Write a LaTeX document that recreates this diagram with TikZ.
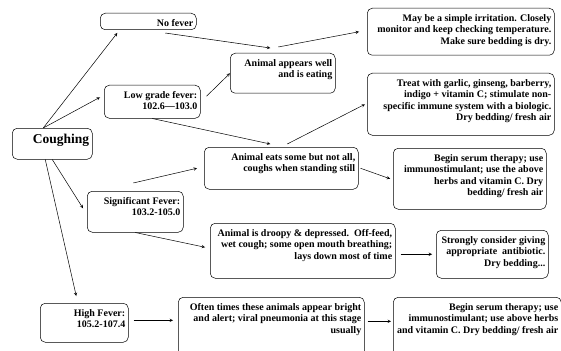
\documentclass[tikz,border=0pt]{standalone}
\usepackage{fontspec}
\setmainfont{Liberation Serif}
\usetikzlibrary{arrows}
\tikzstyle{arrow} = [->,>=stealth]
\newcommand{\bt}[3]{\parbox[c][\dimexpr#2pt-12pt\relax][t]{\dimexpr#1pt-6pt\relax}{\raggedleft #3}}

\begin{document}
\begin{tikzpicture}[x=1pt, y=-1pt, line width=0.5pt,
    box/.style={draw, rounded corners=5pt, anchor=north west, inner xsep=3pt, inner ysep=6pt, font=\bfseries\fontsize{10}{11.5}\selectfont}
  ]
    \useasboundingbox (0,0) rectangle (561,350);
    \clip (0,0) rectangle (561,350);

    % Symptom
    \node[box, font=\bfseries\fontsize{13.5}{16}\selectfont] (cough) at (12,128) {\bt{80}{31}{Coughing}};

    % Temperatures
    \node[box] (nofever) at (100,13) {\bt{96}{16}{No fever}};
    \node[box] (lowgrade) at (104,85) {\bt{96}{33}{Low grade fever:\\102.6---103.0}};
    \node[box] (signif) at (87,191) {\bt{96}{41}{Significant Fever:\\103.2-105.0}};
    \node[box] (high) at (40,303) {\bt{88}{39}{High Fever:\\105.2-107.4}};

    % Signs
    \node[box] (appears) at (230,53) {\bt{105}{40}{Animal appears well\\and is eating}};
    \node[box] (eats) at (204,147) {\bt{154}{42}{Animal eats some but not all,\\coughs when standing still}};
    \node[box] (droopy) at (210,223) {\bt{185}{55}{Animal is droopy \& depressed.\ \ Off-feed,\\wet cough; some open mouth breathing;\\lays down most of time}};
    \node[box] (often) at (178,297) {\bt{186}{80}{Often times these animals appear bright\\and alert; viral pneumonia at this stage\\usually}};

    % Treatments
    \node[box] (irritation) at (367,8) {\bt{187}{47}{May be a simple irritation. Closely\\monitor and keep checking temperature.\\Make sure bedding is dry.}};
    \node[box] (garlic) at (367,73) {\bt{187}{62}{Treat with garlic, ginseng, barberry,\\indigo + vitamin C; stimulate non-\\specific immune system with a biologic.\\Dry bedding/ fresh air}};
    \node[box] (serum) at (393,148) {\bt{153}{61}{Begin serum therapy; use\\immunostimulant; use the above\\herbs and vitamin C. Dry\\bedding/ fresh air}};
    \node[box] (strongly) at (436,230) {\bt{112}{48}{Strongly consider giving\\appropriate\ \ antibiotic.\\Dry bedding...}};
    \node[box] (serumb) at (393,297) {\bt{168}{80}{Begin serum therapy; use\\immunostimulant; use above herbs\\and vitamin C. Dry bedding/ fresh air}};

    % Connectors
    \draw[arrow] ([xshift=-9pt]cough.north) -- ([xshift=-31pt,yshift=-3pt]nofever.south);
    \draw[arrow] ([xshift=-9pt]cough.north) -- ([xshift=-4pt,yshift=4.5pt]lowgrade.west);
    \draw[arrow] (cough.south) -- ([xshift=-4pt,yshift=3.5pt]signif.west);
    \draw[arrow] ([xshift=-7pt]cough.south) -- ([xshift=-8pt,yshift=7pt]high.north);
    \draw[arrow] ([xshift=17pt,yshift=-3pt]nofever.south) -- ([xshift=-12.5pt,yshift=5pt]appears.north);
    \draw[arrow] ([xshift=6pt,yshift=5.5pt]lowgrade.east) -- (appears.west);
    \draw[arrow] (lowgrade.south) -- ([xshift=-11pt,yshift=3pt]eats.north);
    \draw[arrow] ([xshift=-4.5pt,yshift=6pt]appears.north) -- ([xshift=-8pt]irritation.west);
    \draw[arrow] ([xshift=6pt,yshift=3pt]eats.north) -- ([xshift=-2pt]garlic.west);
    \draw[arrow] ([xshift=-2pt,yshift=8pt]signif.north) -- ([xshift=-7pt]eats.west);
    \draw[arrow] ([xshift=2pt]eats.east) -- ([xshift=-3pt]serum.west);
    \draw[arrow] (signif.south) -- ([xshift=-5pt,yshift=3.5pt]droopy.west);
    \draw[arrow] ([xshift=5pt,yshift=-3.5pt]droopy.east) -- ([xshift=-4pt]strongly.west);
    \draw[arrow] ([xshift=5pt,yshift=2.5pt]high.east) -- ([xshift=-5pt,yshift=17pt]often.west);
    \draw[arrow] ([xshift=3pt,yshift=16pt]often.east) -- ([xshift=-2pt,yshift=16pt]serumb.west);
\end{tikzpicture}
\end{document}
